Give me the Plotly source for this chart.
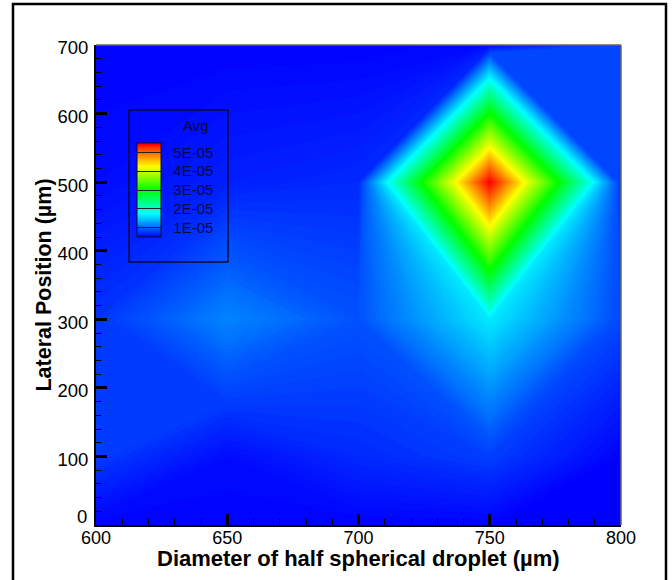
import plotly.graph_objects as go

# ---- data ----
diameter_um = [600, 650, 700, 750, 800]          # x nodes
lateral_um = [0, 100, 300, 500, 700]             # y nodes
# Avg values, one row per lateral position (bottom -> top)
avg = [
    [0.50e-5, 0.50e-5, 0.50e-5, 0.50e-5, 0.50e-5],   # y = 0
    [0.80e-5, 0.55e-5, 0.70e-5, 0.80e-5, 0.50e-5],   # y = 100
    [0.75e-5, 1.15e-5, 0.90e-5, 1.65e-5, 0.85e-5],   # y = 300
    [0.55e-5, 0.65e-5, 0.70e-5, 5.50e-5, 0.75e-5],   # y = 500
    [0.50e-5, 0.50e-5, 0.50e-5, 0.55e-5, 0.85e-5],   # y = 700
]
legend_vals = [1e-5, 2e-5, 3e-5, 4e-5, 5e-5]
legend_text = ["  1E-05", "  2E-05", "  3E-05", "  4E-05", "  5E-05"]
x_ticks = [600, 650, 700, 750, 800]
y_ticks = [0, 100, 200, 300, 400, 500, 600, 700]
# the "0" label sits raised above the corner (drawn separately below)
y_tick_text = ["", "100", "200", "300", "400", "500", "600", "700"]
x_title = "Diameter of half spherical droplet (µm)"
y_title = "Lateral Position (µm)"

FONT = "Liberation Sans, Arial, Helvetica, sans-serif"
W, H = 672, 580
L, R, T, B = 96, 51, 45, 55
PW, PH = W - L - R, H - T - B


def px_x(p):
    return (p - L) / PW


def px_y(p):
    return (H - B - p) / PH


rainbow = [[0.0, "rgb(0,0,255)"], [0.25, "rgb(0,255,255)"], [0.5, "rgb(0,255,0)"],
           [0.75, "rgb(255,255,0)"], [1.0, "rgb(255,0,0)"]]

fig = go.Figure(go.Contour(
    x=diameter_um, y=lateral_um, z=avg,
    zmin=0.5e-5, zmax=5.5e-5, autocontour=False,
    contours=dict(start=0.5e-5, end=5.5e-5, size=0.025e-5, coloring="fill", showlines=False),
    line=dict(width=0, smoothing=0),
    colorscale=rainbow,
    colorbar=dict(
        x=px_x(137), xanchor="left", xref="paper",
        y=px_y(190), yanchor="middle", yref="paper",
        len=94, lenmode="pixels", thickness=24, thicknessmode="pixels",
        xpad=0, ypad=0, borderwidth=0, bgcolor="rgba(0,0,0,0)",
        outlinecolor="#111", outlinewidth=1,
        tickmode="array", tickvals=legend_vals, ticktext=legend_text,
        ticks="inside", ticklen=24, tickwidth=1, tickcolor="#222",
        tickfont=dict(family=FONT, size=15, color="#0a0a3a"),
    ),
    hoverinfo="skip",
))

fig.update_layout(
    width=W, height=H,
    margin=dict(l=L, r=R, t=T, b=B, pad=0),
    paper_bgcolor="white", plot_bgcolor="white",
    showlegend=False,
    font=dict(family=FONT, color="black"),
    xaxis=dict(
        range=[600, 800], tickmode="array", tickvals=x_ticks,
        ticks="inside", ticklen=11, tickwidth=2.5, tickcolor="black",
        showline=True, linecolor="black", linewidth=2, mirror=False,
        showgrid=False, zeroline=False, ticklabelstandoff=-5,
        tickfont=dict(family=FONT, size=18, color="black"),
        minor=dict(dtick=10, ticks="inside", ticklen=6, tickwidth=1.3, tickcolor="black", showgrid=False),
    ),
    yaxis=dict(
        range=[0, 700], tickmode="array", tickvals=y_ticks, ticktext=y_tick_text,
        ticks="inside", ticklen=11, tickwidth=2.5, tickcolor="black",
        showline=True, linecolor="black", linewidth=2, mirror=False,
        showgrid=False, zeroline=False, ticklabelstandoff=2, ticklabelshift=3,
        tickfont=dict(family=FONT, size=18.5, color="black"),
        minor=dict(dtick=20, ticks="inside", ticklen=5, tickwidth=1.3, tickcolor="black", showgrid=False),
        title=dict(text=y_title,
                   font=dict(family=FONT, size=21.5, color="black", weight="bold"), standoff=0),
    ),
    shapes=[
        # outer figure frame
        dict(type="rect", xref="paper", yref="paper",
             x0=px_x(13), x1=px_x(666), y0=px_y(590), y1=px_y(4),
             line=dict(color="black", width=2.5), fillcolor="rgba(0,0,0,0)", layer="above"),
        # thin top and right borders of the plot area
        dict(type="line", xref="paper", yref="paper", x0=0, x1=1, y0=1, y1=1,
             line=dict(color="#666", width=1.5), layer="above"),
        dict(type="line", xref="paper", yref="paper", x0=1, x1=1, y0=0, y1=1,
             line=dict(color="#666", width=1.5), layer="above"),
        # legend box
        dict(type="rect", xref="paper", yref="paper",
             x0=px_x(129), x1=px_x(228), y0=px_y(262), y1=px_y(110),
             line=dict(color="#0a0a3a", width=1.5), fillcolor="rgba(0,0,0,0)", layer="above"),
    ],
    annotations=[
        dict(text="Avg", xref="paper", yref="paper", x=px_x(195.5), y=px_y(126),
             xanchor="center", yanchor="middle", showarrow=False,
             font=dict(family=FONT, size=15, color="#0a0a3a")),
        dict(text=x_title, xref="paper", yref="paper", x=px_x(358), y=px_y(558),
             xanchor="center", yanchor="middle", showarrow=False,
             font=dict(family=FONT, size=22, color="black", weight="bold")),
        dict(text="0", xref="paper", yref="paper", x=px_x(89), y=px_y(516),
             xanchor="right", yanchor="middle", showarrow=False,
             font=dict(family=FONT, size=18.5, color="black")),
    ],
)

fig.write_html("out.html", config={"displayModeBar": False},
               post_script="document.body.style.margin='0';document.body.style.overflow='hidden';")
